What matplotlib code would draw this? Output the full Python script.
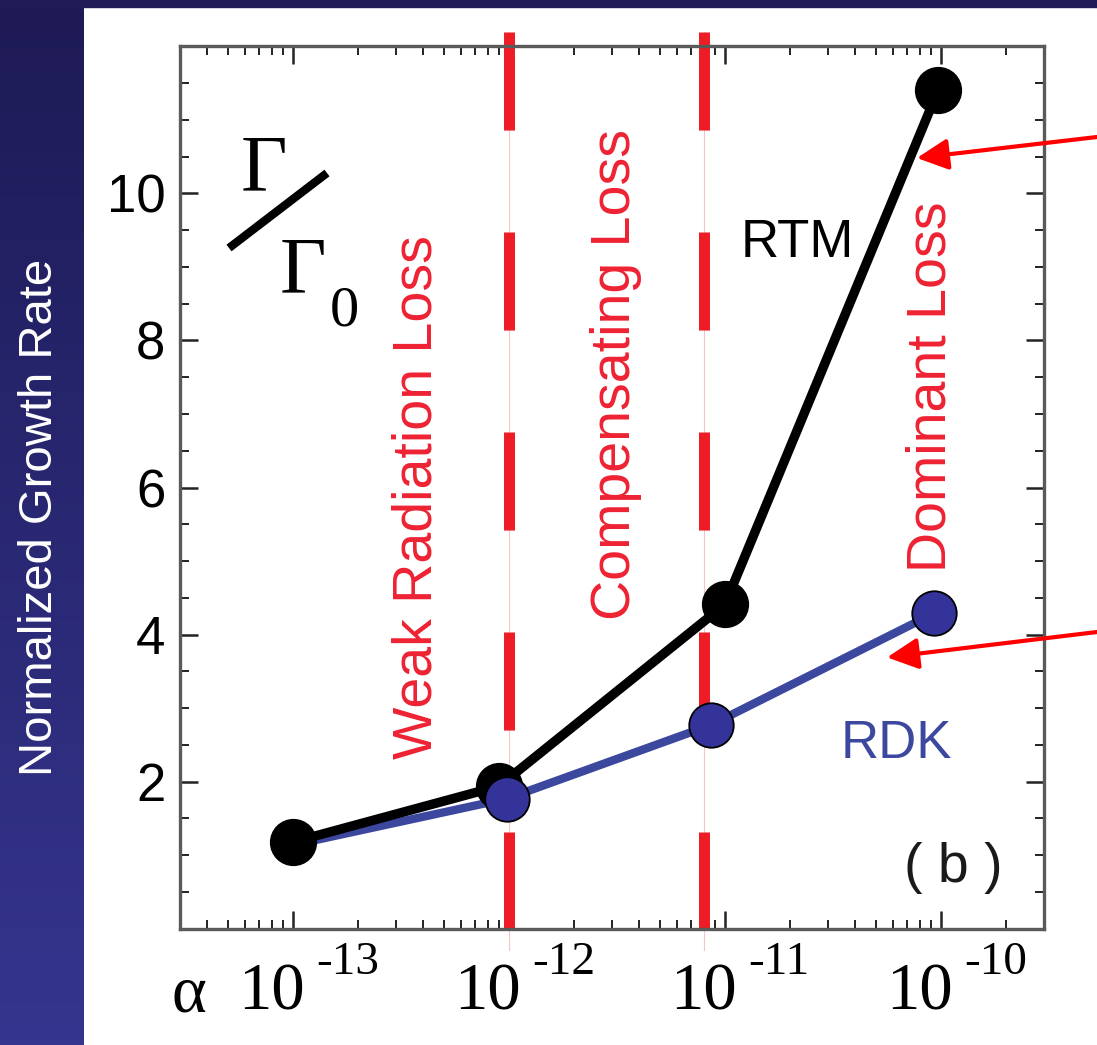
import numpy as np
import matplotlib
matplotlib.use("Agg")
import matplotlib.pyplot as plt
from matplotlib.ticker import MultipleLocator, LogLocator, NullFormatter, FixedLocator
from matplotlib.colors import LinearSegmentedColormap
from matplotlib.patches import Rectangle
from matplotlib.lines import Line2D

W, H = 1097, 1045

# growth rate vs. radiation parameter alpha
alpha_rtm = [1.0e-13, 9.0e-13, 1.0e-11, 9.7e-11]
rate_rtm = [1.18, 1.94, 4.41, 11.40]
alpha_rdk = [1.0e-13, 9.8e-13, 8.6e-12, 9.3e-11]
rate_rdk = [1.14, 1.77, 2.77, 4.29]

regime_bounds = [1.0e-12, 8.0e-12]
regime_names = ["Weak Radiation Loss", "Compensating Loss", "Dominant Loss"]
decades = [-13, -12, -11, -10]
y_ticks = [0, 2, 4, 6, 8, 10, 12]
y_labels = ["", "2", "4", "6", "8", "10", ""]

RED = "#ee1c25"
BLUE = "#333399"
BLUE_LINE = "#3c489e"
SANS = "Liberation Sans"
SERIF = "Liberation Serif"

plt.rcParams["lines.scale_dashes"] = False


def fig_xy(x, y):
    # pixel position (from top-left) -> figure fraction
    return x / W, 1 - y / H


def draw_background(fig):
    side = fig.add_axes([0, 0, 84 / W, 1])
    grad = np.linspace(0, 1, 256).reshape(-1, 1)
    cmap = LinearSegmentedColormap.from_list("side", ["#1d1a55", "#35358f"])
    side.imshow(grad, aspect="auto", cmap=cmap, extent=[0, 1, 0, 1], origin="upper")
    side.axis("off")
    fig.patches.append(
        Rectangle((0, 1 - 7 / H), 1, 7 / H, transform=fig.transFigure,
                  color="#1e1b57", zorder=0)
    )
    fig.text(*fig_xy(52, 517), "Normalized Growth Rate", rotation=90,
             rotation_mode="anchor", ha="center", va="baseline",
             color="white", fontsize=34, family=SANS)


def setup_axes(ax):
    ax.set_xscale("log")
    ax.set_xlim(3e-14, 3e-10)
    ax.set_ylim(0, 12)
    ax.xaxis.set_major_locator(FixedLocator([10.0 ** d for d in decades]))
    ax.xaxis.set_minor_locator(LogLocator(base=10, subs=np.arange(2, 10)))
    ax.xaxis.set_major_formatter(NullFormatter())
    ax.xaxis.set_minor_formatter(NullFormatter())
    ax.set_yticks(y_ticks)
    ax.set_yticklabels(y_labels, fontsize=38, family=SANS)
    ax.yaxis.set_minor_locator(MultipleLocator(0.5))
    ax.tick_params(which="both", direction="in", top=True, right=True, color="#222222")
    ax.tick_params(which="major", length=13, width=1.8, pad=10.5)
    ax.tick_params(which="minor", length=6.5, width=1.4)
    for sp in ax.spines.values():
        sp.set_color("#5a5a5a")
        sp.set_linewidth(2.4)

    for d in decades:
        ax.annotate("10", xy=(10.0 ** d, 0), xycoords=("data", "axes fraction"),
                    xytext=(12, -81), textcoords="offset pixels", ha="right",
                    va="baseline", fontsize=48, family=SERIF)
        ax.annotate(f"-{-d}", xy=(10.0 ** d, 0), xycoords=("data", "axes fraction"),
                    xytext=(23, -45), textcoords="offset pixels", ha="left",
                    va="baseline", fontsize=34, family=SERIF)


def draw_regimes(ax):
    for xb in regime_bounds:
        ax.plot([xb, xb], [12.19, -0.29], color="#f9c4c4", lw=0.8,
                clip_on=False, zorder=1.5)
        ax.plot([xb, xb], [12.19, -0.01], color=RED, lw=7.9,
                linestyle=(0, (70.6, 73.4)), clip_on=False, zorder=2)
    spots = [(431, 497), (630, 375), (945, 387)]
    for name, (x, y) in zip(regime_names, spots):
        ax.figure.text(*fig_xy(x, y), name, rotation=90, rotation_mode="anchor",
                       ha="center", va="baseline", color="#ee2233",
                       fontsize=40, family=SANS)


def draw_curves(ax):
    ax.plot(alpha_rdk, rate_rdk, color=BLUE_LINE, lw=6, zorder=3,
            solid_capstyle="round")
    ax.plot(alpha_rtm, rate_rtm, color="black", lw=6.8, marker="o",
            markersize=33, markerfacecolor="black", markeredgecolor="black",
            zorder=4, clip_on=False)
    ax.plot(alpha_rdk[1:], rate_rdk[1:], linestyle="none", marker="o",
            markersize=32, markerfacecolor=BLUE, markeredgecolor="black",
            markeredgewidth=1.3, zorder=6, clip_on=False)

    arrow = dict(arrowstyle="-|>,head_length=19,head_width=9.5", color="#ff0000",
                 lw=3, shrinkA=0, shrinkB=0, mutation_scale=1)
    ax.annotate("", xy=(7.74e-11, 10.48), xycoords="data",
                xytext=fig_xy(1097, 137), textcoords="figure fraction",
                arrowprops=arrow, annotation_clip=False)
    ax.annotate("", xy=(5.63e-11, 3.69), xycoords="data",
                xytext=fig_xy(1097, 632), textcoords="figure fraction",
                arrowprops=arrow, annotation_clip=False)


def draw_labels(fig):
    fig.text(*fig_xy(797.5, 257), "RTM", ha="center", va="baseline",
             color="black", fontsize=38, family=SANS)
    fig.text(*fig_xy(896.5, 758), "RDK", ha="center", va="baseline",
             color=BLUE_LINE, fontsize=38, family=SANS)
    fig.text(*fig_xy(953, 882), "( b )", ha="center", va="baseline",
             color="#1a1a1a", fontsize=40, family=SANS)
    fig.text(*fig_xy(189, 1012), "α", ha="center", va="baseline",
             fontsize=48, family=SERIF)

    # Gamma / Gamma_0 with a slanted bar
    fig.text(*fig_xy(241, 190), "Γ", ha="left", va="baseline",
             fontsize=58, family=SERIF)
    fig.text(*fig_xy(280, 292), "Γ", ha="left", va="baseline",
             fontsize=58, family=SERIF)
    fig.text(*fig_xy(330, 325), "0", ha="left", va="baseline",
             fontsize=42, family=SERIF)
    x0, y0 = fig_xy(229, 248)
    x1, y1 = fig_xy(327, 173)
    fig.add_artist(Line2D([x0, x1], [y0, y1], transform=fig.transFigure,
                          color="black", lw=6, solid_capstyle="butt"))


if __name__ == "__main__":
    fig = plt.figure(figsize=(W / 100, H / 100), dpi=100, facecolor="white")
    draw_background(fig)
    ax = fig.add_axes([180 / W, 1 - 928.8 / H, (1044 - 180) / W, (928.8 - 46.2) / H])
    setup_axes(ax)
    draw_regimes(ax)
    draw_curves(ax)
    draw_labels(fig)
    fig.savefig("out.png", dpi=100, facecolor="white")
